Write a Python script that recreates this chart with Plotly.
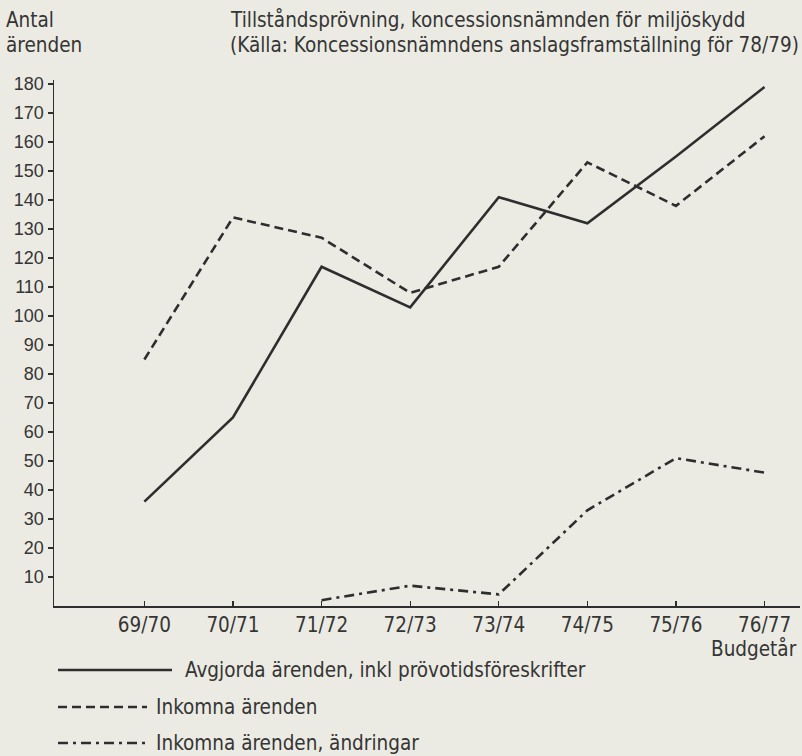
import plotly.graph_objects as go

# ---- data ----
years = ["69/70", "70/71", "71/72", "72/73", "73/74", "74/75", "75/76", "76/77"]
avgjorda = [36, 65, 117, 103, 141, 132, 155, 179]
inkomna = [85, 134, 127, 108, 117, 153, 138, 162]
andringar = [None, None, 2, 7, 4, 33, 51, 46]
y_ticks = list(range(10, 190, 10))

names = ["Avgjorda ärenden, inkl prövotidsföreskrifter",
         "Inkomna ärenden",
         "Inkomna ärenden, ändringar"]

LINE = "#2e2e2e"
TEXT = "#353535"
BG = "#ecebe3"
COND = "Liberation Sans Narrow, DejaVu Sans Condensed, Arial Narrow, sans-serif"
REG = "Liberation Sans, Arial, Helvetica, sans-serif"
dashes = ["solid", "9px,5px", "10px,5px,3px,5px"]

W, H = 802, 756
ML, MR, MT, MB = 54, 2, 80, 150
PW, PH = W - ML - MR, H - MT - MB


def px(x):
    return (x - ML) / PW


def py(y):
    return (H - MB - y) / PH


fig = go.Figure()
for name, vals, d in zip(names, [avgjorda, inkomna, andringar], dashes):
    fig.add_trace(go.Scatter(x=years, y=vals, mode="lines", name=name,
                             line=dict(color=LINE, width=2.6, dash=d),
                             connectgaps=False, showlegend=False,
                             hoverinfo="skip"))

FS = 20.5
annotations = [
    dict(text="Antal", x=px(4), y=py(20), xanchor="left", yanchor="middle"),
    dict(text="ärenden", x=px(4), y=py(45), xanchor="left", yanchor="middle"),
    dict(text="Tillståndsprövning, koncessionsnämnden för miljöskydd",
         x=px(228), y=py(20), xanchor="left", yanchor="middle"),
    dict(text="(Källa: Koncessionsnämndens anslagsframställning för 78/79)",
         x=px(228), y=py(45), xanchor="left", yanchor="middle"),
    dict(text="Budgetår", x=px(799), y=py(648), xanchor="right", yanchor="middle"),
]
legend_rows = [(670, 58, 172, 183), (707, 58, 147, 154), (743, 58, 147, 154)]
shapes = []
for (yy, x0, x1, xt), name, d in zip(legend_rows, names, dashes):
    shapes.append(dict(type="line", xref="paper", yref="paper",
                       x0=px(x0), x1=px(x1), y0=py(yy), y1=py(yy),
                       line=dict(color=LINE, width=2.6, dash=d)))
    annotations.append(dict(text=name, x=px(xt), y=py(yy),
                            xanchor="left", yanchor="middle"))
for a in annotations:
    a.update(xref="paper", yref="paper", showarrow=False,
             font=dict(family=COND, size=FS, color=TEXT))

fig.update_layout(
    width=W, height=H,
    margin=dict(l=ML, r=MR, t=MT, b=MB),
    paper_bgcolor=BG, plot_bgcolor=BG,
    annotations=annotations, shapes=shapes,
    showlegend=False,
)
fig.update_xaxes(type="category", range=[-1.02, 7.4], showgrid=False, zeroline=False,
                 showline=True, linecolor=LINE, linewidth=1.5,
                 ticks="inside", ticklen=5, tickcolor=LINE, tickwidth=1.2,
                 tickfont=dict(family=COND, size=FS, color=TEXT))
fig.update_yaxes(range=[0, 181.4], showgrid=False, zeroline=False,
                 showline=True, linecolor=LINE, linewidth=1.5,
                 tickvals=y_ticks, ticktext=[str(v) for v in y_ticks],
                 ticks="outside", ticklen=5, tickcolor=LINE, tickwidth=1.2,
                 tickfont=dict(family=REG, size=18, color=TEXT))

fig.write_html(
    "out.html",
    config={"displayModeBar": False, "staticPlot": True},
    post_script=(
        "document.body.style.margin='0';"
        "document.body.style.padding='0';"
        "document.body.style.background='" + BG + "';"
    ),
)
